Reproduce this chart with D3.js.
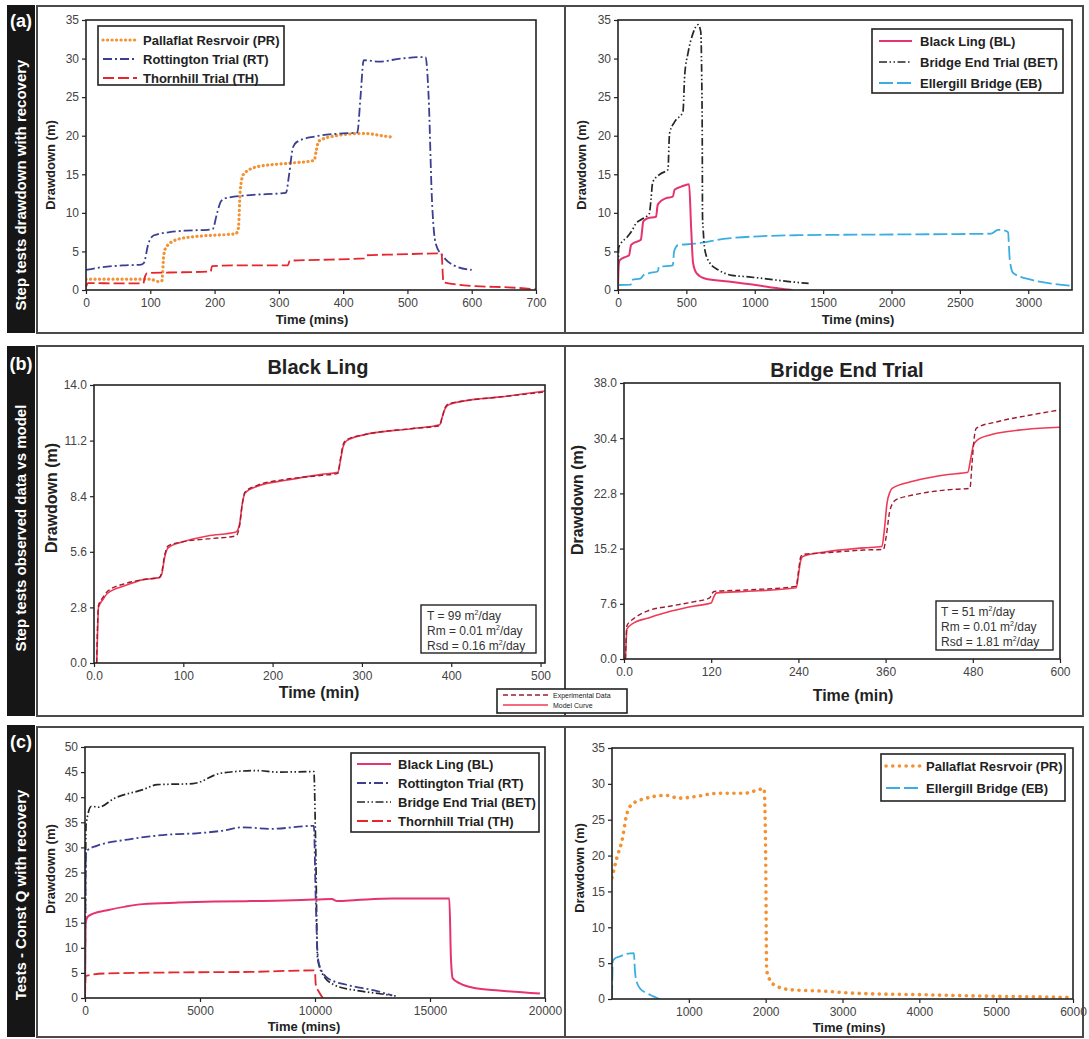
<!DOCTYPE html>
<html><head><meta charset="utf-8">
<script src="https://cdn.jsdelivr.net/npm/d3@7"></script>
<style>body{margin:0;background:#fff}</style>
</head><body>
<script>
// ---------------- DATA ----------------
// Panel (a) left: step tests (time mins, drawdown m)
const aL_PR = [[0,1.4],[20,1.4],[60,1.4],[100,1.4],[112,1.1],[118,1.2],[121,4.5],[125,5.6],[144,6.6],[180,7.0],[233,7.3],[237,8],[240,13],[245,15],[267,16],[311,16.4],[355,16.8],[358,18],[362,19.3],[389,20.0],[433,20.3],[460,20.0],[478,19.8]];
const aL_RT = [[0,2.6],[20,2.9],[61,3.2],[86,3.3],[90,3.5],[97,6],[106,7.1],[130,7.5],[156,7.7],[189,7.8],[197,7.9],[204,10],[210,11.5],[217,11.9],[256,12.3],[311,12.6],[316,15],[322,18.5],[328,19.2],[356,19.9],[400,20.3],[422,20.4],[427,25],[432,29.8],[456,29.6],[489,30.0],[528,30.2],[533,25],[538,12],[544,6.0],[556,4.3],[572,3.2],[600,2.6]];
const aL_TH = [[0,0.4],[3,0.9],[50,0.85],[89,0.85],[92,1.8],[95,2.2],[150,2.3],[194,2.4],[196,3.1],[250,3.2],[314,3.2],[317,3.8],[360,3.9],[433,4.1],[436,4.5],[480,4.6],[553,4.75],[556,1.0],[606,0.5],[656,0.35],[700,0.1]];
// Panel (a) right
const aR_BL = [[0,0],[5,3.3],[15,3.9],[57,4.3],[81,4.5],[95,5.8],[106,6.0],[167,6.5],[175,7.5],[185,8.9],[217,9.3],[278,9.5],[290,11.0],[300,11.3],[352,11.9],[401,12.1],[414,13.0],[463,13.4],[520,13.7],[535,8],[549,3.5],[574,2.2],[635,1.5],[808,1.1],[1005,0.65],[1177,0.2],[1276,0]];
const aR_BET = [[0,0],[5,5.5],[20,6.0],[69,6.9],[106,7.8],[130,8.6],[167,9.1],[229,9.9],[241,11.7],[254,14.0],[315,15.1],[365,15.6],[377,20.3],[414,21.8],[475,23.1],[488,27.9],[512,30.7],[549,33.3],[586,34.4],[605,33.5],[612,28],[616,20.3],[618,9.5],[623,7.8],[635,5.2],[672,3.5],[734,2.6],[833,1.9],[956,1.7],[1153,1.3],[1300,1.0],[1394,0.85]];
const aR_EB = [[0,0.65],[94,0.7],[100,1.3],[167,1.5],[185,1.9],[229,2.2],[290,2.4],[300,3.0],[401,3.2],[410,5.0],[438,5.8],[562,6.0],[808,6.7],[1300,7.1],[2039,7.2],[2729,7.3],[2778,7.8],[2830,7.7],[2852,7.5],[2865,3.9],[2890,2.2],[3025,1.3],[3148,0.9],[3320,0.55]];
// Panel (b) left: Black Ling, model vs experimental
const bL_MOD = [[3,0],[4,1.5],[5,2.8],[10,3.2],[15,3.5],[35,3.9],[55,4.2],[73,4.3],[76,4.5],[79,5.3],[83,5.8],[99,6.1],[127,6.4],[159,6.6],[163,7.0],[166,8.0],[169,8.55],[183,8.9],[215,9.2],[255,9.5],[273,9.6],[276,10.2],[279,10.9],[283,11.2],[303,11.5],[355,11.8],[387,12.0],[390,12.4],[393,12.8],[397,13.0],[415,13.2],[455,13.4],[505,13.7]];
const bL_EXP = [[3,0],[4,2.0],[5,2.9],[10,3.3],[15,3.6],[35,4.0],[55,4.2],[73,4.3],[76,4.6],[79,5.4],[83,5.9],[99,6.1],[127,6.25],[159,6.4],[163,6.9],[166,8.0],[169,8.6],[183,8.95],[215,9.25],[255,9.45],[273,9.55],[276,10.3],[279,11.0],[283,11.25],[303,11.5],[355,11.8],[387,11.95],[390,12.4],[393,12.85],[397,13.05],[415,13.2],[455,13.4],[505,13.65]];
// Panel (b) right: Bridge End Trial
const bR_MOD = [[2,0],[3,2.5],[4,4.1],[14,5.0],[32,5.6],[65,6.6],[97,7.3],[120,7.7],[123,8.4],[126,9.0],[128,9.1],[167,9.3],[237,9.8],[240,11.5],[243,13.5],[246,14.1],[274,14.7],[330,15.3],[355,15.5],[358,17.5],[362,21.5],[366,23.0],[369,23.5],[399,24.5],[446,25.4],[473,25.7],[477,27.5],[481,29.5],[487,30.2],[506,30.9],[552,31.6],[600,31.9]];
const bR_EXP = [[2,0],[3,3],[4,4.6],[14,5.6],[32,6.6],[65,7.3],[97,7.9],[118,8.4],[121,9.0],[124,9.3],[167,9.5],[237,10.0],[240,12],[243,14],[246,14.4],[274,14.6],[330,15.0],[357,15.1],[361,17],[366,20.5],[374,21.9],[399,22.6],[446,23.3],[476,23.5],[479,27],[482,30.5],[485,31.8],[515,32.7],[560,33.6],[600,34.3]];
// Panel (c) left: constant Q tests
const cL_BL = [[0,0],[20,14.8],[124,16.2],[356,16.8],[975,17.5],[1750,18.2],[2520,18.7],[4070,19.0],[5620,19.2],[7170,19.3],[8710,19.4],[9950,19.6],[10730,19.7],[10960,19.3],[11810,19.5],[13360,19.8],[15840,19.8],[15910,8],[15990,3.9],[16300,2.9],[16920,2.0],[18000,1.5],[19780,0.9]];
const cL_RT = [[0,0],[50,29.0],[124,29.5],[511,30.3],[1750,31.5],[2830,32.2],[3760,32.6],[4840,32.8],[5930,33.3],[6860,34.0],[8090,33.7],[9950,34.3],[10030,20],[10110,9],[10190,6.5],[10570,3.9],[11500,2.5],[12580,1.5],[13360,0.5]];
const cL_BET = [[0,0],[46,34.5],[279,38.2],[589,38.0],[1285,39.8],[2520,41.5],[3140,42.5],[4690,42.7],[5930,44.8],[7480,45.3],[8400,45.0],[9950,45.1],[10030,30],[10110,8],[10300,5],[10880,2.5],[11810,1.5],[12740,0.9],[13510,0.4]];
const cL_TH = [[0,0],[30,4.4],[124,4.5],[975,4.9],[4070,5.1],[7170,5.2],[9950,5.5],[10000,5.3],[10030,2.8],[10200,1.0],[10340,0]];
// Panel (c) right
const cR_PR = [[0,16.9],[64,19.7],[128,22.0],[191,25.7],[255,27.1],[447,28.0],[702,28.4],[872,28.0],[1128,28.3],[1383,28.7],[1723,28.7],[1979,29.3],[2000,20],[2013,3.9],[2106,2.0],[2319,1.3],[2745,1.1],[3170,0.8],[4021,0.6],[4872,0.4],[5809,0.25],[6000,0.2]];
const cR_EB = [[0,0],[10,5.3],[43,5.7],[106,5.95],[191,6.3],[285,6.4],[298,4],[310,2.9],[362,1.5],[447,0.85],[532,0.4],[617,0]];

// Tick values
const tA_x = [0,100,200,300,400,500,600,700];
const tA_y = [0,5,10,15,20,25,30,35];
const tAR_x = [0,500,1000,1500,2000,2500,3000];
const tBL_x = [0,100,200,300,400,500];
const tBL_y = [0,2.8,5.6,8.4,11.2,14.0];
const tBR_x = [0,120,240,360,480,600];
const tBR_y = [0,7.6,15.2,22.8,30.4,38.0];
const tCL_x = [0,5000,10000,15000,20000];
const tCL_y = [0,5,10,15,20,25,30,35,40,45,50];
const tCR_x = [1000,2000,3000,4000,5000,6000];

// ---------------- STYLES ----------------
const ST = {
  PR:  {stroke:'#f39233', w:3.2, dash:'0.1,4.4', cap:'round'},
  PR2: {stroke:'#f39233', w:3.6, dash:'0.1,6.6', cap:'round'},
  RT:  {stroke:'#3c3f8f', w:1.8, dash:'9,3,2,3'},
  TH:  {stroke:'#e5262d', w:1.8, dash:'11,4'},
  BL:  {stroke:'#e63370', w:2, dash:null},
  BET: {stroke:'#262626', w:1.7, dash:'8,2.5,1.5,2.5,1.5,2.5'},
  EB:  {stroke:'#3aaee2', w:1.8, dash:'14,4'},
  EXP: {stroke:'#9e1b32', w:1.4, dash:'5,3'},
  MOD: {stroke:'#ef3a55', w:1.6, dash:null}
};
const FONT = '"Liberation Sans", Arial, Helvetica, sans-serif';
const NARROW = '"Liberation Sans Narrow", "Arial Narrow", "Liberation Sans", Arial, sans-serif';

const svg = d3.select('body').append('svg').attr('width',1089).attr('height',1039)
  .style('font-family',FONT);

// ---------------- FRAMES & SIDE BANDS ----------------
const rows = [
  {y0:6, y1:333, by0:5, by1:333, tag:'(a)', tagY:27, text:'Step tests drawdown with recovery', ty:185},
  {y0:346, y1:716, by0:346, by1:716, tag:'(b)', tagY:370, text:'Step tests observed data vs model', ty:528},
  {y0:727, y1:1037, by0:725, by1:1037, tag:'(c)', tagY:748, text:'Tests - Const Q with recovery', ty:895}
];
rows.forEach(r=>{
  svg.append('rect').attr('x',7).attr('y',r.by0).attr('width',28).attr('height',r.by1-r.by0).attr('fill','#161616');
  svg.append('rect').attr('x',37).attr('y',r.y0).attr('width',1046).attr('height',r.y1-r.y0)
     .attr('fill','none').attr('stroke','#4a4a4a').attr('stroke-width',2);
  svg.append('line').attr('x1',565).attr('x2',565).attr('y1',r.y0).attr('y2',r.y1)
     .attr('stroke','#4a4a4a').attr('stroke-width',2);
  svg.append('text').attr('x',21).attr('y',r.tagY).attr('text-anchor','middle')
     .attr('fill','#fff').attr('font-weight','bold').attr('font-size',18).text(r.tag);
  svg.append('text').attr('transform',`translate(26,${r.ty}) rotate(-90)`).attr('text-anchor','middle')
     .attr('fill','#fff').attr('font-weight','bold').attr('font-size',15).text(r.text);
});

// ---------------- PANEL HELPER ----------------
let clipId = 0;
function panel(c){
  const x = d3.scaleLinear().domain(c.xd).range([c.x0,c.x1]);
  const y = d3.scaleLinear().domain(c.yd).range([c.y1,c.y0]);
  const g = svg.append('g');
  const xa = d3.axisBottom(x).tickValues(c.xt).tickSize(4).tickPadding(4)
    .tickFormat(c.xf || (d=>d));
  const ya = d3.axisLeft(y).tickValues(c.yt).tickSize(4).tickPadding(3)
    .tickFormat(c.yf || (d=>d));
  const gx = g.append('g').attr('transform',`translate(0,${c.y1})`).call(xa);
  const gy = g.append('g').attr('transform',`translate(${c.x0},0)`).call(ya);
  [gx,gy].forEach(a=>{
    a.select('.domain').remove();
    a.selectAll('line').attr('stroke','#222').attr('stroke-width',1.2);
    a.selectAll('text').attr('fill','#444').attr('font-size',c.tfs||12).style('font-family',FONT);
  });
  const id = 'clip'+(clipId++);
  svg.append('clipPath').attr('id',id).append('rect')
     .attr('x',c.x0).attr('y',c.y0-2).attr('width',c.x1-c.x0).attr('height',c.y1-c.y0+2);
  const line = d3.line().x(d=>x(d[0])).y(d=>y(d[1])).curve(d3.curveMonotoneX);
  const lg = g.append('g').attr('clip-path',`url(#${id})`);
  c.series.forEach(s=>{
    const st = ST[s.style];
    lg.append('path').attr('d',line(s.data)).attr('fill','none')
      .attr('stroke',st.stroke).attr('stroke-width',st.w)
      .attr('stroke-dasharray',st.dash).attr('stroke-linecap',st.cap||'butt')
      .attr('stroke-linejoin','round');
  });
  g.append('rect').attr('x',c.x0).attr('y',c.y0).attr('width',c.x1-c.x0).attr('height',c.y1-c.y0)
    .attr('fill','none').attr('stroke','#222').attr('stroke-width',1.6);
  // axis titles
  g.append('text').attr('x',c.xlx).attr('y',c.xly).attr('text-anchor','middle')
    .attr('font-weight','bold').attr('font-size',c.afs).attr('fill','#222').text(c.xl);
  g.append('text').attr('transform',`translate(${c.ylx},${c.yly}) rotate(-90)`).attr('text-anchor','middle')
    .attr('font-weight','bold').attr('font-size',c.afs).attr('fill','#222').text(c.yl);
  if(c.title){
    g.append('text').attr('x',c.tx).attr('y',c.tyy).attr('text-anchor','middle')
      .attr('font-weight','bold').attr('font-size',20).attr('fill','#222').text(c.title);
  }
  return {x,y,g};
}

function legend(b, items){
  const g = svg.append('g');
  g.append('rect').attr('x',b.x0).attr('y',b.y0).attr('width',b.x1-b.x0).attr('height',b.y1-b.y0)
    .attr('fill','#fff').attr('stroke','#222').attr('stroke-width',1.6);
  items.forEach((it,i)=>{
    const yy = b.ry0 + i*b.dy;
    const st = ST[it.style];
    g.append('line').attr('x1',b.lx0).attr('x2',b.lx1).attr('y1',yy).attr('y2',yy)
      .attr('stroke',st.stroke).attr('stroke-width',st.w).attr('stroke-dasharray',st.dash)
      .attr('stroke-linecap',st.cap||'butt');
    g.append('text').attr('x',b.tx).attr('y',yy+b.fs*0.36).attr('font-size',b.fs)
      .attr('font-weight',b.bold===false?'normal':'bold').attr('fill','#222')
      .style('font-family',b.family||NARROW).text(it.label);
  });
}

function annot(b, lines){
  const g = svg.append('g');
  g.append('rect').attr('x',b.x0).attr('y',b.y0).attr('width',b.x1-b.x0).attr('height',b.y1-b.y0)
    .attr('fill','#fff').attr('stroke','#222').attr('stroke-width',1.4);
  lines.forEach((l,i)=>{
    const t = g.append('text').attr('x',b.tx).attr('y',b.ry0+i*b.dy).attr('font-size',12).attr('fill','#333');
    t.append('tspan').text(l[0]);
    t.append('tspan').attr('font-size',7).attr('dy',-5).text('2');
    t.append('tspan').attr('dy',5).text('/day');
  });
}

// ---------------- PANELS ----------------
panel({x0:86,x1:536,y0:20,y1:290,xd:[0,700],yd:[0,35],xt:tA_x,yt:tA_y,afs:13,
  xl:'Time (mins)',xlx:312,xly:324,yl:'Drawdown (m)',ylx:55,yly:165,
  series:[{data:aL_PR,style:'PR'},{data:aL_RT,style:'RT'},{data:aL_TH,style:'TH'}]});
legend({x0:98,x1:284,y0:26,y1:85,ry0:40,dy:19,lx0:103,lx1:137,tx:143,fs:13},
  [{label:'Pallaflat Resrvoir (PR)',style:'PR'},{label:'Rottington Trial (RT)',style:'RT'},{label:'Thornhill Trial (TH)',style:'TH'}]);

panel({x0:618,x1:1072,y0:20,y1:290,xd:[0,3320],yd:[0,35],xt:tAR_x,yt:tA_y,afs:13,
  xl:'Time (mins)',xlx:858,xly:324,yl:'Drawdown (m)',ylx:586,yly:165,
  series:[{data:aR_EB,style:'EB'},{data:aR_BET,style:'BET'},{data:aR_BL,style:'BL'}]});
legend({x0:872,x1:1063,y0:29,y1:93,ry0:41,dy:21,lx0:879,lx1:912,tx:920,fs:13},
  [{label:'Black Ling (BL)',style:'BL'},{label:'Bridge End Trial (BET)',style:'BET'},{label:'Ellergill Bridge (EB)',style:'EB'}]);

const fmtB = d=> d===0 ? '0.0' : d;
const fmtBy = d=> d3.format('.1f')(d);
panel({x0:94,x1:545,y0:385,y1:663,xd:[0,505],yd:[0,14],xt:tBL_x,yt:tBL_y,xf:fmtB,yf:fmtBy,afs:16,
  xl:'Time (min)',xlx:319,xly:698,yl:'Drawdown (m)',ylx:57,yly:498,title:'Black Ling',tx:318,tyy:374,
  series:[{data:bL_MOD,style:'MOD'},{data:bL_EXP,style:'EXP'}]});
annot({x0:421,x1:536,y0:605,y1:653,tx:427,ry0:620,dy:15},
  [['T = 99 m'],['Rm = 0.01 m'],['Rsd = 0.16 m']]);

panel({x0:624,x1:1060,y0:383,y1:659,xd:[0,600],yd:[0,38],xt:tBR_x,yt:tBR_y,xf:fmtB,yf:fmtBy,afs:16,
  xl:'Time (min)',xlx:853,xly:701,yl:'Drawdown (m)',ylx:583,yly:500,title:'Bridge End Trial',tx:847,tyy:377,
  series:[{data:bR_MOD,style:'MOD'},{data:bR_EXP,style:'EXP'}]});
annot({x0:936,x1:1053,y0:601,y1:650,tx:941,ry0:616,dy:15},
  [['T = 51 m'],['Rm = 0.01 m'],['Rsd = 1.81 m']]);

legend({x0:497,x1:627,y0:689,y1:713,ry0:695,dy:10,lx0:503,lx1:548,tx:553,fs:7,bold:false,family:FONT},
  [{label:'Experimental Data',style:'EXP'},{label:'Model Curve',style:'MOD'}]);

panel({x0:85,x1:545,y0:747,y1:998,xd:[0,20000],yd:[0,50],xt:tCL_x,yt:tCL_y,afs:13,
  xl:'Time (mins)',xlx:304,xly:1031,yl:'Drawdown (m)',ylx:55,yly:869,
  series:[{data:cL_TH,style:'TH'},{data:cL_BET,style:'BET'},{data:cL_RT,style:'RT'},{data:cL_BL,style:'BL'}]});
legend({x0:351,x1:539,y0:753,y1:832,ry0:764,dy:19,lx0:357,lx1:391,tx:398,fs:13},
  [{label:'Black Ling (BL)',style:'BL'},{label:'Rottington Trial (RT)',style:'RT'},{label:'Bridge End Trial (BET)',style:'BET'},{label:'Thornhill Trial (TH)',style:'TH'}]);

panel({x0:612,x1:1073,y0:748,y1:999,xd:[0,6000],yd:[0,35],xt:tCR_x,yt:tA_y,afs:13,
  xl:'Time (mins)',xlx:849,xly:1032,yl:'Drawdown (m)',ylx:584,yly:868,
  series:[{data:cR_PR,style:'PR2'},{data:cR_EB,style:'EB'}]});
legend({x0:881,x1:1065,y0:754,y1:801,ry0:766,dy:22,lx0:886,lx1:921,tx:926,fs:13},
  [{label:'Pallaflat Resrvoir (PR)',style:'PR2'},{label:'Ellergill Bridge (EB)',style:'EB'}]);
</script>
</body></html>
